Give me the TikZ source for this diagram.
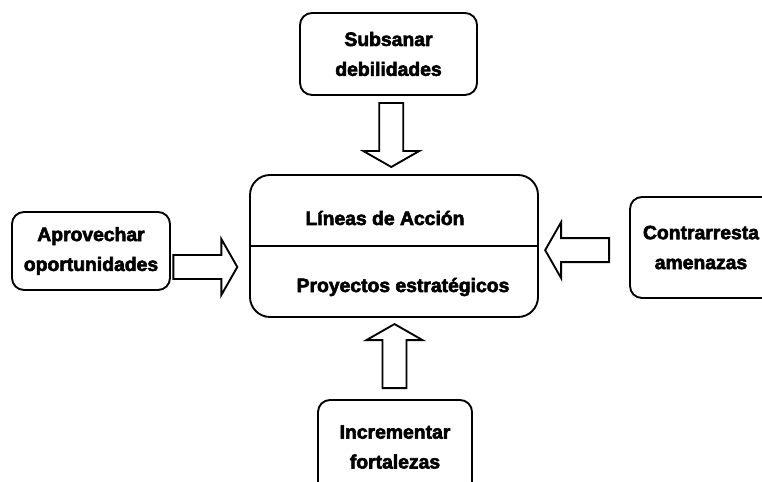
\documentclass[tikz,border=0pt]{standalone}
\usepackage{fontspec}
\setmainfont{Liberation Sans}[BoldFeatures={FakeBold=3}]
\usetikzlibrary{calc}
\tikzset{
  caja/.style={draw,line width=1.6pt,rounded corners=0.36cm,align=center,
    font=\bfseries\fontsize{16.5}{25.5}\selectfont},
  rotulo/.style={font=\bfseries\fontsize{16.5}{25.5}\selectfont,align=center},
  flecha/.pic={
    \draw[line width=1.6pt,line join=miter] (32,0) -- (16,28) -- (16,12) -- (-32,12)
      -- (-32,-12) -- (16,-12) -- (16,-28) -- cycle;
  }
}
\begin{document}
\begin{tikzpicture}[x=0.03cm,y=0.03cm]
  \clip (0,0) rectangle (762,482);
  \node[caja,rounded corners=0.6cm,minimum width=8.64cm,minimum height=4.26cm] (cen) at (394,236) {};
  \draw[line width=1.6pt] (cen.west) -- (cen.east);
  \node[rotulo] (lineas) at ($(cen.center)+(-9,28)$) {Líneas de Acción};
  \node[rotulo] (proy) at ($(cen.center)+(9,-41)$) {Proyectos estratégicos};
  \node[caja,minimum width=5.31cm,minimum height=2.46cm] (sub) at (388.5,428) {Subsanar\\debilidades};
  \node[caja,minimum width=4.74cm,minimum height=2.34cm] (apro) at (91,231) {Aprovechar\\oportunidades};
  \node[caja,minimum width=4.56cm,minimum height=3.03cm] (contra) at (706,234.5) {};
  \node[rotulo] (contratxt) at (701,234.5) {Contrarresta\\amenazas};
  \node[caja,minimum width=4.62cm,minimum height=2.82cm] (inc) at (395,35) {Incrementar\\fortalezas};
  % flechas hacia el centro
  \pic[rotate=-90] at ($(sub.south)!0.5!(cen.north)$) {flecha};
  \pic[rotate=90] at ($(cen.south)!0.47!(inc.north)$) {flecha};
  \pic at ($([yshift=-0.48cm]apro.east)!0.44!([yshift=-0.48cm]apro.east -| cen.west)$) {flecha};
  \pic[rotate=180] at ($([yshift=-0.08cm]contra.west)!0.576!([yshift=-0.08cm]contra.west -| cen.east)$) {flecha};
\end{tikzpicture}
\end{document}
